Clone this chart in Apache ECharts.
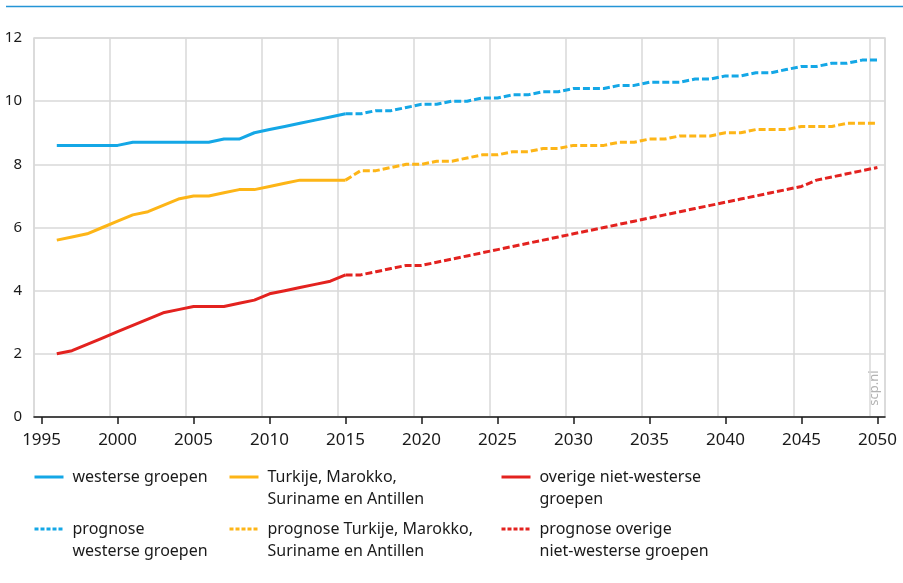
<!DOCTYPE html>
<html>
<head>
<meta charset="utf-8">
<script src="https://cdn.jsdelivr.net/npm/echarts@6/dist/echarts.min.js"></script>
<style>
html,body{margin:0;padding:0;background:#fff;}
#chart{width:903px;height:583px;}
</style>
</head>
<body>
<div id="chart"></div>
<script>
// Categories (years)
const years = [];
for (let y = 1995; y <= 2050; y++) years.push(String(y));

const histStart = 1996;   // first year of observed series
const progStart = 2015;   // first year of forecast series

// Observed values 1996-2015
const westersHist = [8.6, 8.6, 8.6, 8.6, 8.6, 8.7, 8.7, 8.7, 8.7, 8.7, 8.7, 8.8, 8.8, 9.0, 9.1, 9.2, 9.3, 9.4, 9.5, 9.6];
const tmsaHist    = [5.6, 5.7, 5.8, 6.0, 6.2, 6.4, 6.5, 6.7, 6.9, 7.0, 7.0, 7.1, 7.2, 7.2, 7.3, 7.4, 7.5, 7.5, 7.5, 7.5];
const overigHist  = [2.0, 2.1, 2.3, 2.5, 2.7, 2.9, 3.1, 3.3, 3.4, 3.5, 3.5, 3.5, 3.6, 3.7, 3.9, 4.0, 4.1, 4.2, 4.3, 4.5];

// Forecast values 2015-2050
const westersProg = [9.6, 9.6, 9.7, 9.7, 9.8, 9.9, 9.9, 10.0, 10.0, 10.1, 10.1, 10.2, 10.2, 10.3, 10.3, 10.4, 10.4, 10.4, 10.5, 10.5, 10.6, 10.6, 10.6, 10.7, 10.7, 10.8, 10.8, 10.9, 10.9, 11.0, 11.1, 11.1, 11.2, 11.2, 11.3, 11.3];
const tmsaProg    = [7.5, 7.8, 7.8, 7.9, 8.0, 8.0, 8.1, 8.1, 8.2, 8.3, 8.3, 8.4, 8.4, 8.5, 8.5, 8.6, 8.6, 8.6, 8.7, 8.7, 8.8, 8.8, 8.9, 8.9, 8.9, 9.0, 9.0, 9.1, 9.1, 9.1, 9.2, 9.2, 9.2, 9.3, 9.3, 9.3];
const overigProg  = [4.5, 4.5, 4.6, 4.7, 4.8, 4.8, 4.9, 5.0, 5.1, 5.2, 5.3, 5.4, 5.5, 5.6, 5.7, 5.8, 5.9, 6.0, 6.1, 6.2, 6.3, 6.4, 6.5, 6.6, 6.7, 6.8, 6.9, 7.0, 7.1, 7.2, 7.3, 7.5, 7.6, 7.7, 7.8, 7.9];

const yTicks = [0, 2, 4, 6, 8, 10, 12];

const seriesNames = [
  'westerse groepen',
  'Turkije, Marokko, Suriname en Antillen',
  'overige niet-westerse groepen',
  'prognose westerse groepen',
  'prognose Turkije, Marokko, Suriname en Antillen',
  'prognose overige niet-westerse groepen'
];
const legendLabels = [
  'westerse groepen',
  'Turkije, Marokko,\nSuriname en Antillen',
  'overige niet-westerse\ngroepen',
  'prognose\nwesterse groepen',
  'prognose Turkije, Marokko,\nSuriname en Antillen',
  'prognose overige\nniet-westerse groepen'
];

const colBlue = '#14a7e6', colOrange = '#fdb517', colRed = '#e3221f';

function pad(values, start) {
  return years.map(y => {
    const i = Number(y) - start;
    return (i >= 0 && i < values.length) ? values[i] : null;
  });
}

function mkSeries(name, values, start, color, dashed) {
  return {
    name: name, type: 'line', data: pad(values, start),
    symbol: 'none', connectNulls: false, silent: true,
    lineStyle: { color: color, width: 3, type: dashed ? [7, 3] : 'solid', join: 'round' },
    itemStyle: { color: color }
  };
}

function mkLegend(idx, left, top, twoLine, dashed) {
  return {
    data: [seriesNames[idx]], left: left, top: top, padding: 0,
    itemWidth: 29, itemHeight: 14, selectedMode: false,
    formatter: () => (twoLine ? '\n' : '') + legendLabels[idx],
    itemStyle: { color: 'rgba(0,0,0,0)', borderWidth: 0, opacity: 0 },
    lineStyle: { width: 3, type: dashed ? [4, 2] : 'solid' },
    textStyle: { fontFamily: 'Noto Sans', fontSize: 16, color: '#1a1a1a', lineHeight: 22,
                 padding: [0, 0, 0, 4] }
  };
}

const chart = echarts.init(document.getElementById('chart'), null, { renderer: 'canvas' });
chart.setOption({
  animation: false,
  backgroundColor: '#ffffff',
  grid: { left: 34, right: 18, top: 38, bottom: 166, show: true, borderColor: '#d9d9d9', borderWidth: 1.5 },
  xAxis: {
    type: 'category', data: years, boundaryGap: true,
    axisLine: { lineStyle: { color: '#1a1a1a', width: 1.5 } },
    axisTick: { show: true, alignWithLabel: true, interval: 4, length: 7, lineStyle: { color: '#1a1a1a', width: 1.5 } },
    axisLabel: { interval: 4, margin: 15, fontFamily: 'Noto Sans', fontSize: 17, color: '#1a1a1a' },
    splitLine: { show: true, interval: 4, lineStyle: { color: '#d9d9d9', width: 1.5 } }
  },
  yAxis: {
    type: 'value', min: yTicks[0], max: yTicks[yTicks.length - 1], interval: 2,
    axisLine: { show: false }, axisTick: { show: false },
    axisLabel: { margin: 12, fontFamily: 'Noto Sans', fontSize: 15, color: '#1a1a1a' },
    splitLine: { show: true, lineStyle: { color: '#d9d9d9', width: 1.5 } }
  },
  legend: [
    mkLegend(0, 33, 466, false, false),
    mkLegend(1, 228, 444, true, false),
    mkLegend(2, 500, 444, true, false),
    mkLegend(3, 33, 496, true, true),
    mkLegend(4, 228, 496, true, true),
    mkLegend(5, 500, 496, true, true)
  ],
  series: [
    mkSeries(seriesNames[0], westersHist, histStart, colBlue, false),
    mkSeries(seriesNames[1], tmsaHist, histStart, colOrange, false),
    mkSeries(seriesNames[2], overigHist, histStart, colRed, false),
    mkSeries(seriesNames[3], westersProg, progStart, colBlue, true),
    mkSeries(seriesNames[4], tmsaProg, progStart, colOrange, true),
    mkSeries(seriesNames[5], overigProg, progStart, colRed, true)
  ],
  graphic: [
    { type: 'line', shape: { x1: 6, y1: 6.5, x2: 903, y2: 6.5 }, style: { stroke: '#2495d6', lineWidth: 1.5 }, silent: true },
    { type: 'text', x: 874, y: 388, rotation: Math.PI / 2,
      style: { text: 'scp.nl', fill: '#b3b3b3', font: '13px "Noto Sans"', align: 'center', verticalAlign: 'middle' }, silent: true }
  ]
});
</script>
</body>
</html>
